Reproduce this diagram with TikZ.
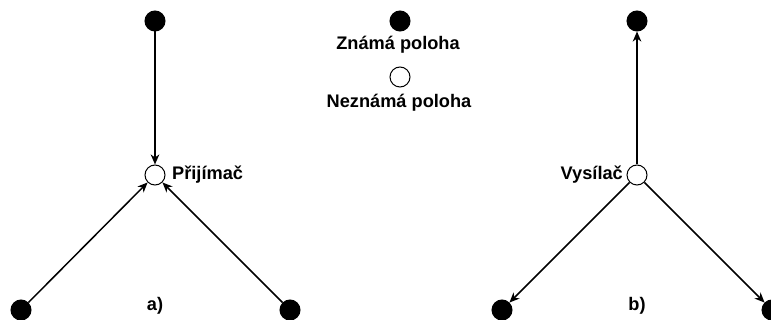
\documentclass[tikz,border=0pt]{standalone}
\usepackage{fontspec}
\setmainfont{Liberation Sans}
\usetikzlibrary{arrows.meta}
\begin{document}
\begin{tikzpicture}[x=1pt,y=-1pt,
  known/.style={circle,fill=black,draw=black,line width=1pt,minimum size=20pt,inner sep=0pt},
  unknown/.style={circle,fill=white,draw=black,line width=1pt,minimum size=20pt,inner sep=0pt},
  lbl/.style={font=\bfseries\fontsize{18.2}{20}\selectfont,inner sep=0pt},
  link/.style={line width=1.5pt,-{Stealth[length=10pt,width=8.5pt,inset=3pt]}}]
\useasboundingbox (0,0) rectangle (771,320);

% a) receiver with three known stations
\node[known] (at) at (155,21) {};
\node[unknown] (rx) at (155,175) {};
\node[known] (al) at (21,310) {};
\node[known] (ar) at (290,310) {};
\node[lbl,anchor=west] (rxl) at (172,175) {Přijímač};
\node[lbl] (la) at (155,306) {a)};
\draw[link] (at) -- (rx);
\draw[link] (al) -- (rx);
\draw[link] (ar) -- (rx);

% legend
\node[known] (kk) at (400,21) {};
\node[lbl] (kt) at (398,45) {Známá poloha};
\node[unknown] (uu) at (400,77) {};
\node[lbl] (ut) at (399,103) {Neznámá poloha};

% b) transmitter with three known stations
\node[known] (bt) at (637,21) {};
\node[unknown] (tx) at (637,175) {};
\node[known] (bl) at (502,310) {};
\node[known] (br) at (772,310) {};
\node[lbl,anchor=east] (txl) at (623,175) {Vysílač};
\node[lbl] (lb) at (637,306) {b)};
\draw[link] (tx) -- (bt);
\draw[link] (tx) -- (bl);
\draw[link] (tx) -- (br);
\end{tikzpicture}
\end{document}
